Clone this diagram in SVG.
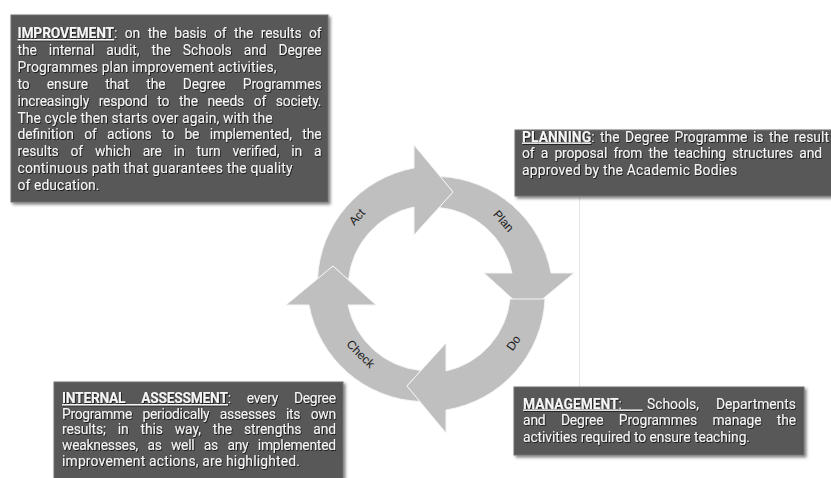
<svg xmlns="http://www.w3.org/2000/svg" width="831" height="478" viewBox="0 0 831 478">
<defs>
<filter id="bs" x="-5%" y="-10%" width="115%" height="130%"><feDropShadow dx="2" dy="2" stdDeviation="1.6" flood-color="#000" flood-opacity="0.5"/></filter>
<filter id="ts" x="-2%" y="-10%" width="104%" height="130%"><feDropShadow dx="0.8" dy="0.8" stdDeviation="0.4" flood-color="#000" flood-opacity="0.85"/></filter>
<path id="arrowShape" d="M-112.5,-10 A118,118 0 0 1 -16,-121 L-16,-144 L23,-97 L-16,-54 L-16,-82 A82,82 0 0 0 -81.5,-9 L-97,-23 Z"/>
</defs>
<style>
.box{fill:#595959;stroke:#707070;stroke-width:1;filter:url(#bs)}
.bt{font-family:Roboto,"Open Sans",sans-serif;font-size:13.8px;fill:#f5f5f5;filter:url(#ts)}
.b{font-weight:700;text-decoration:underline}
.arr{fill:#bfbfbf;stroke:#f4f4f4;stroke-width:1;stroke-linejoin:miter}
.lbl{font-family:"Liberation Sans",Arial,sans-serif;font-size:12px;fill:#1a1a1a;text-anchor:middle}
</style>
<rect width="831" height="478" fill="#ffffff"/>
<line x1="579.5" y1="197" x2="579.5" y2="387" stroke="#e6e6e6" stroke-width="1"/>

<g id="connectors">
<g id="arrow-plan"><use href="#arrowShape" class="arr" transform="translate(430 289) rotate(90)"/><text class="lbl" transform="translate(503.5 221) rotate(48)" y="4">Plan</text></g>
<g id="arrow-act"><use href="#arrowShape" class="arr" transform="translate(430 289)"/><text class="lbl" transform="translate(357 217) rotate(-48)" y="4">Act</text></g>
<g id="arrow-check"><use href="#arrowShape" class="arr" transform="translate(430 289) rotate(270)"/><text class="lbl" transform="translate(360.5 354) rotate(45)" y="4">Check</text></g>
<g id="arrow-do"><path class="arr" transform="translate(430 289) rotate(180)" d="M-115,-10 A118,118 0 0 1 -16,-121 L-16,-144 L23,-97 L-16,-54 L-16,-82 A82,82 0 0 0 -80,-10 Z"/><text class="lbl" transform="translate(513.5 343) rotate(-55)" y="4">Do</text></g>
</g>

<g id="node-improvement">
<rect class="box" x="11" y="15" width="317" height="187"/>
<g class="bt">
<text x="17.5" y="38" word-spacing="4.3" textLength="304" lengthAdjust="spacing"><tspan class="b">IMPROVEMENT</tspan>: on the basis of the results of</text>
<text x="17.5" y="54.9" word-spacing="8.8" textLength="304" lengthAdjust="spacing">the internal audit, the Schools and Degree</text>
<text x="17.5" y="71.8" textLength="259" lengthAdjust="spacing">Programmes plan improvement activities,</text>
<text x="17.5" y="88.7" word-spacing="13.9" textLength="304" lengthAdjust="spacing">to ensure that the Degree Programmes</text>
<text x="17.5" y="105.6" word-spacing="6.4" textLength="304" lengthAdjust="spacing">increasingly respond to the needs of society.</text>
<text x="17.5" y="122.5" textLength="255" lengthAdjust="spacing">The cycle then starts over again, with the</text>
<text x="17.5" y="139.4" word-spacing="7" textLength="304" lengthAdjust="spacing">definition of actions to be implemented, the</text>
<text x="17.5" y="156.3" word-spacing="8.5" textLength="304" lengthAdjust="spacing">results of which are in turn verified, in a</text>
<text x="17.5" y="173.2" textLength="275" lengthAdjust="spacing">continuous path that guarantees the quality</text>
<text x="17.5" y="190.1" textLength="82" lengthAdjust="spacing">of education.</text>
</g>
</g>

<g id="node-planning">
<rect class="box" x="515" y="130" width="330" height="66"/>
<g class="bt">
<text x="522" y="141.5" word-spacing="1.9" textLength="307" lengthAdjust="spacing"><tspan class="b">PLANNING</tspan>: the Degree Programme is the result</text>
<text x="522" y="158" word-spacing="3" textLength="300" lengthAdjust="spacing">of a proposal from the teaching structures and</text>
<text x="522" y="174.5" textLength="215" lengthAdjust="spacing">approved by the Academic Bodies</text>
</g>
</g>

<g id="node-assessment">
<rect class="box" x="54" y="382" width="289" height="100"/>
<g class="bt">
<text x="62" y="403" word-spacing="12.8" textLength="274" lengthAdjust="spacing"><tspan class="b">INTERNAL ASSESSMENT</tspan>: every Degree</text>
<text x="62" y="418.7" word-spacing="7.3" textLength="274" lengthAdjust="spacing">Programme periodically assesses its own</text>
<text x="62" y="434.4" word-spacing="8.7" textLength="274" lengthAdjust="spacing">results; in this way, the strengths and</text>
<text x="62" y="450.1" word-spacing="6.2" textLength="274" lengthAdjust="spacing">weaknesses, as well as any implemented</text>
<text x="62" y="465.8" textLength="238" lengthAdjust="spacing">improvement actions, are highlighted.</text>
</g>
</g>

<g id="node-management">
<rect class="box" x="514" y="387" width="290" height="68"/>
<g class="bt">
<text x="523" y="408.5" style="white-space:pre"><tspan text-decoration="underline"><tspan font-weight="700">MANAGEMENT</tspan>:      </tspan><tspan x="647">Schools,</tspan><tspan x="716">Departments</tspan></text>
<text x="523" y="425.3" word-spacing="12.1" textLength="273" lengthAdjust="spacing">and Degree Programmes manage the</text>
<text x="523" y="442" textLength="227" lengthAdjust="spacing">activities required to ensure teaching.</text>
</g>
</g>
</svg>
